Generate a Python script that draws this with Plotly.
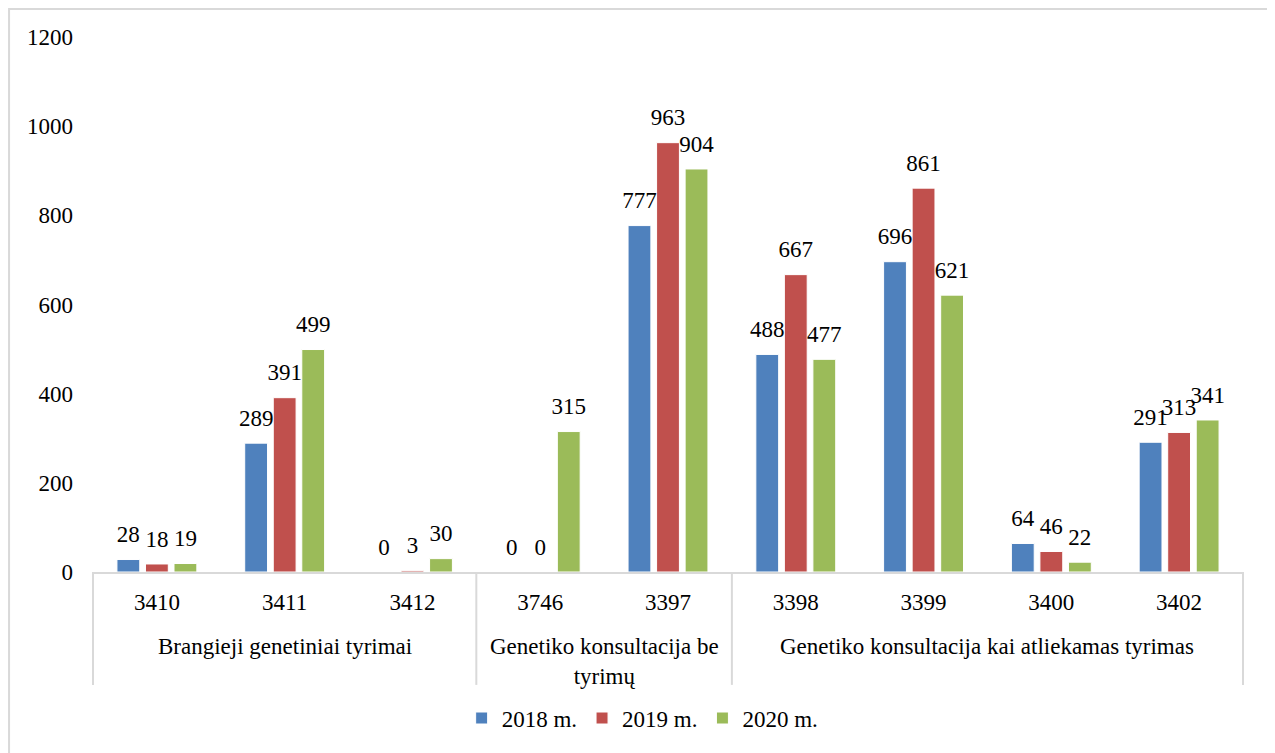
import plotly.graph_objects as go

codes = ["3410", "3411", "3412", "3746", "3397", "3398", "3399", "3400", "3402"]
group_names = ["Brangieji genetiniai tyrimai", "Genetiko konsultacija be<br>tyrimų",
               "Genetiko konsultacija kai atliekamas tyrimas"]
group_sizes = [3, 2, 4]
series_names = ["2018 m.", "2019 m.", "2020 m."]
v2018 = [28, 289, 0, 0, 777, 488, 696, 64, 291]
v2019 = [18, 391, 3, 0, 963, 667, 861, 46, 313]
v2020 = [19, 499, 30, 315, 904, 477, 621, 22, 341]
colors = ["#4F81BD", "#C0504D", "#9BBB59"]

FONT = "Liberation Serif"
GRID = "#d9d9d9"
fig = go.Figure()
for name, vals, col in zip(series_names, [v2018, v2019, v2020], colors):
    fig.add_trace(go.Bar(
        x=codes, y=vals, name=name,
        marker=dict(color=col, line=dict(color="white", width=1)),
        cliponaxis=False, hoverinfo="x+y+name",
    ))
# value labels: grouped text-only scatter traces aligned with the bars
for name, vals in zip(series_names, [v2018, v2019, v2020]):
    fig.add_trace(go.Scatter(
        x=codes, y=vals, name=name, mode="markers+text", showlegend=False,
        marker=dict(size=17, opacity=0), text=[str(v) for v in vals],
        textposition="top center", textfont=dict(family=FONT, size=23, color="black"),
        cliponaxis=False, hoverinfo="skip",
    ))

# group labels and dividers on the category axis
annotations = []
shapes = []
start = 0
boundaries = [-0.5]
for gname, size in zip(group_names, group_sizes):
    center = start + (size - 1) / 2
    annotations.append(dict(x=center, xref="x", y=-0.112, yref="paper", text=gname,
                            showarrow=False, xanchor="center", yanchor="top",
                            font=dict(family=FONT, size=23, color="black")))
    start += size
    boundaries.append(start - 0.5)
for b in boundaries:
    shapes.append(dict(type="line", xref="x", yref="paper", x0=b, x1=b, y0=0, y1=-0.211,
                       line=dict(color=GRID, width=2)))
# outer chart border
shapes.append(dict(type="rect", xref="paper", yref="paper", x0=-0.072, x1=1.0243,
                   y0=-0.36, y1=1.0523, line=dict(color=GRID, width=2),
                   fillcolor="rgba(0,0,0,0)", layer="below"))

fig.update_layout(
    width=1267, height=745,
    margin=dict(l=84, r=31, t=29, b=181),
    paper_bgcolor="white", plot_bgcolor="white",
    font=dict(family=FONT, size=23, color="black"),
    barmode="group", bargap=0.33, bargroupgap=0.2,
    scattermode="group", scattergap=0.33,
    showlegend=True,
    legend=dict(orientation="h", x=0.478, xanchor="center", y=-0.273, yanchor="middle",
                font=dict(family=FONT, size=23), itemwidth=30, traceorder="normal"),
    xaxis=dict(type="category", showline=True, linecolor=GRID, linewidth=2,
               showgrid=False, ticks="", tickfont=dict(family=FONT, size=23),
               ticklabelstandoff=8),
    yaxis=dict(range=[0, 1200], dtick=200, showgrid=False, showline=False, ticks="",
               zeroline=False, tickfont=dict(family=FONT, size=23), ticklabelstandoff=18),
    annotations=annotations,
    shapes=shapes,
)
fig.write_html("out.html")
